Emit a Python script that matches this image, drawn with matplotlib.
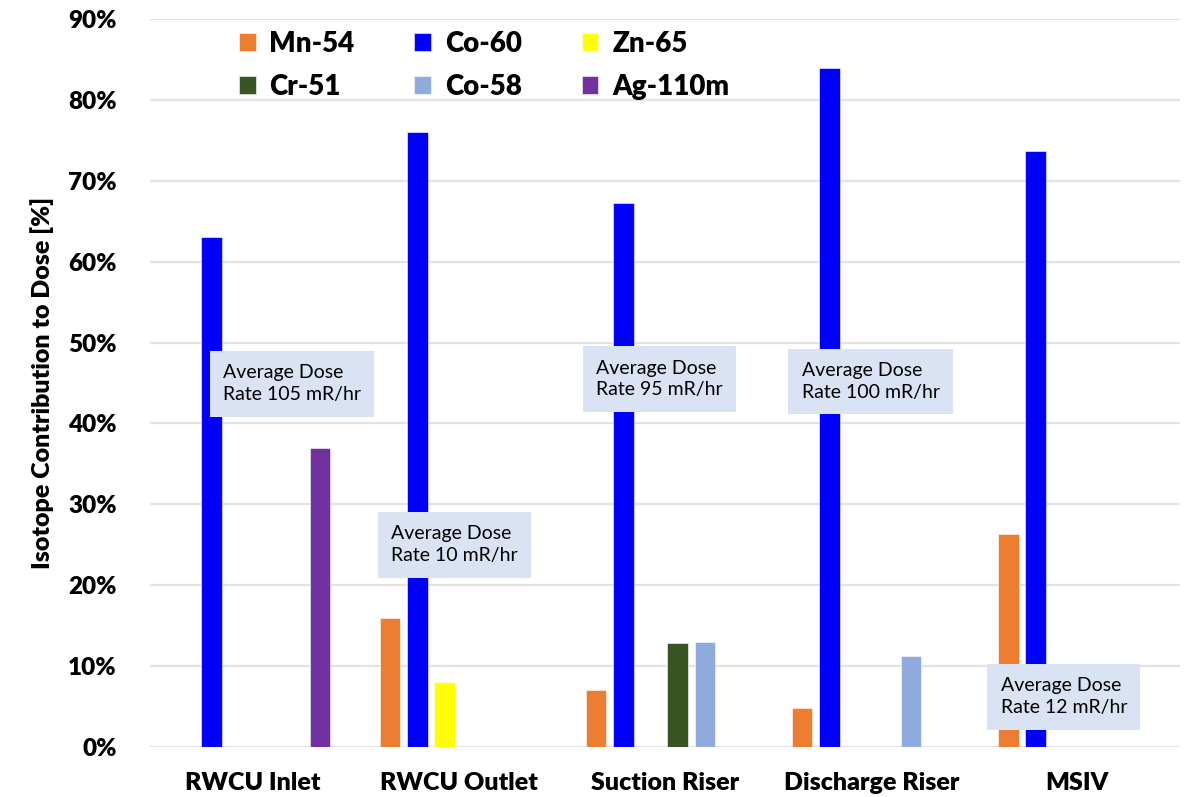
import numpy as np
import matplotlib
matplotlib.use("Agg")
import matplotlib.pyplot as plt

plt.rcParams['font.family'] = ['Lato', 'DejaVu Sans']

locations = ["RWCU Inlet", "RWCU Outlet", "Suction Riser", "Discharge Riser", "MSIV"]
isotopes = ["Mn-54", "Co-60", "Zn-65", "Cr-51", "Co-58", "Ag-110m"]

# percent contribution, one list per isotope (0 = not present)
mn54 = [0, 16.0, 7.1, 4.8, 26.3]
co60 = [63.1, 76.0, 67.2, 83.9, 73.7]
zn65 = [0, 8.0, 0, 0, 0]
cr51 = [0, 0, 12.8, 0, 0]
co58 = [0, 0, 13.0, 11.3, 0]
ag110m = [37.0, 0, 0, 0, 0]

colors = ["#ED7D31", "#0000FF", "#FFFF00", "#375623", "#8FAADC", "#7030A0"]

notes = ["Average Dose\nRate 105 mR/hr", "Average Dose\nRate 10 mR/hr",
         "Average Dose\nRate 95 mR/hr", "Average Dose\nRate 100 mR/hr",
         "Average Dose\nRate 12 mR/hr"]
note_pos = [(-0.145, 47.3), (0.670, 27.4), (1.666, 47.9), (2.662, 47.6), (3.628, 8.6)]

series = [mn54, co60, zn65, cr51, co58, ag110m]

fig = plt.figure(figsize=(11.91, 7.97), dpi=100)
ax = fig.add_axes([0.126, 0.0627, 0.865, 0.9134])

x = np.arange(len(locations))
slot = 0.132
width = 0.1
bars = []
for i in range(len(series)):
	b = ax.bar(x + (i - 2.5) * slot - 0.005, series[i], width, color=colors[i],
	           label=isotopes[i], zorder=3, edgecolor="white", linewidth=0.4)
	bars.append(b)

ax.set_xlim(-0.5, 4.5)
ax.set_ylim(0, 90)
ax.set_yticks(np.arange(0, 91, 10))
ax.set_yticklabels([str(v) + "%" for v in range(0, 91, 10)], fontsize=17.5, fontweight="heavy")
ax.set_xticks(x)
ax.set_xticklabels(locations, fontsize=18, fontweight="heavy")
ax.tick_params(axis="both", length=0)
ax.tick_params(axis="y", pad=24)
ax.tick_params(axis="x", pad=18)
for s in ax.spines.values():
	s.set_visible(False)
ax.yaxis.grid(True, color="#E3E3E3", linewidth=1.6, zorder=0)
ax.set_axisbelow(True)
ax.set_ylabel("Isotope Contribution to Dose [%]", fontsize=18, fontweight="heavy", labelpad=10)

for i in range(len(notes)):
	ax.text(note_pos[i][0], note_pos[i][1], notes[i], ha="left", va="top", fontsize=14,
	        linespacing=1.35, zorder=5,
	        bbox=dict(boxstyle="square,pad=0.68", facecolor="#DAE3F3", edgecolor="none"))

order = [0, 3, 1, 4, 2, 5]
leg = ax.legend([bars[k] for k in order], [isotopes[k] for k in order], ncol=3,
                loc="upper left", bbox_to_anchor=(0.062, 1.018), frameon=False,
                prop={"size": 20, "weight": "heavy"}, handlelength=0.6, handleheight=0.6,
                handletextpad=0.5, columnspacing=2.15, labelspacing=0.6)

fig.savefig("out.png", dpi=100)
